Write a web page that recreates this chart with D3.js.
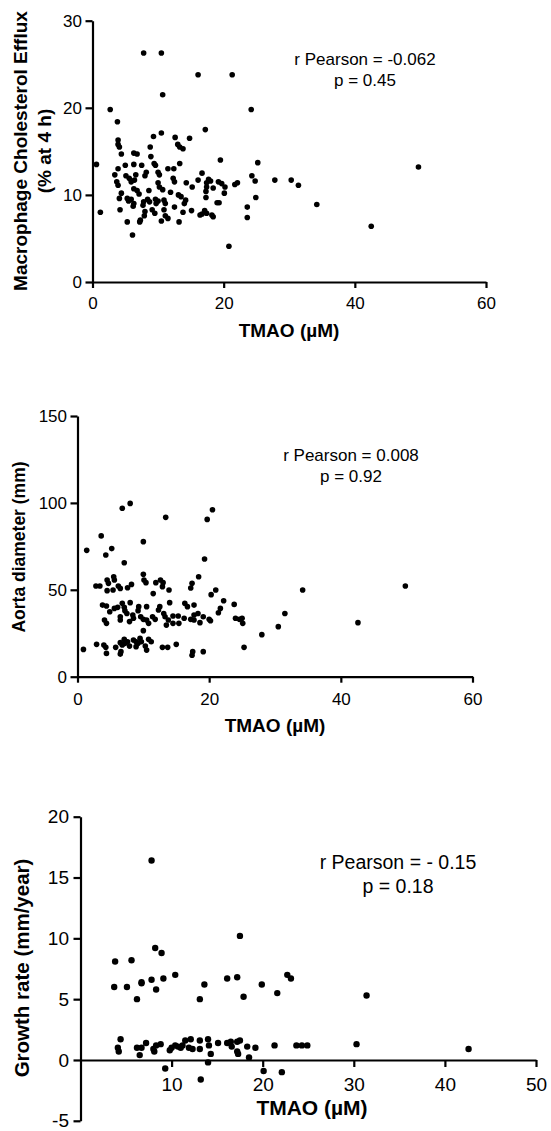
<!DOCTYPE html>
<html>
<head>
<meta charset="utf-8">
<script src="https://cdn.jsdelivr.net/npm/d3@7"></script>
<style>
  html, body { margin: 0; padding: 0; background: #fff; }
  svg { display: block; font-family: "Liberation Sans", Arial, sans-serif; }
</style>
</head>
<body>
<svg id="chart" width="551" height="1131"></svg>
<script>
// panel 1: macrophage cholesterol efflux vs TMAO
const tmaoEfflux = [7.8, 10.5, 16.1, 21.3, 10.7, 2.7, 24.2, 3.8, 17.2, 10.5, 9.3, 12.6, 14.8, 3.9, 3.9, 4.1, 8.8, 13.0, 13.3, 13.8,
  4.4, 6.3, 6.8, 8.9, 19.5, 0.6, 9.4, 9.6, 13.3, 6.3, 5.0, 7.5, 25.2, 49.7, 3.9, 11.5, 12.4, 10.0, 10.2, 8.2,
  8.0, 16.7, 3.4, 5.1, 6.6, 6.4, 24.3, 17.7, 17.4, 18.0, 12.3, 12.5, 5.6, 5.9, 19.2, 19.7, 24.8, 27.8, 30.3, 31.4,
  14.3, 3.7, 3.9, 10.0, 10.2, 16.1, 21.7, 22.1, 15.2, 20.2, 17.4, 17.3, 10.7, 6.3, 6.8, 7.1, 8.6, 4.4, 11.9, 18.4,
  20.1, 17.3, 13.1, 13.5, 24.9, 4.1, 5.3, 5.5, 5.9, 9.6, 10.0, 8.4, 8.7, 10.9, 11.1, 14.2, 14.0, 7.8, 7.7, 6.3,
  6.2, 9.7, 19.0, 19.3, 12.5, 23.6, 34.2, 1.2, 4.2, 9.1, 10.9, 13.8, 15.1, 17.1, 17.4, 8.0, 7.9, 9.5, 11.1, 11.5,
  16.4, 16.7, 18.4, 18.2, 23.6, 7.2, 7.3, 5.3, 10.5, 13.2, 42.5, 6.1, 20.8]
const efflux = [26.3, 26.3, 23.8, 23.8, 21.5, 19.8, 19.8, 18.4, 17.5, 17.1, 16.7, 16.6, 16.5, 16.3, 15.8, 15.5, 15.5, 15.8, 15.5, 15.3,
  14.7, 14.8, 14.7, 14.4, 14.0, 13.5, 13.6, 13.4, 13.6, 13.5, 13.4, 13.4, 13.7, 13.2, 13.0, 13.0, 13.0, 12.6, 12.3, 12.6,
  12.2, 12.5, 12.3, 12.2, 12.3, 11.7, 12.2, 11.8, 11.4, 11.6, 11.9, 11.5, 11.9, 11.5, 11.5, 11.3, 11.6, 11.7, 11.7, 11.1,
  11.4, 11.5, 11.1, 11.4, 10.9, 11.7, 11.2, 11.4, 10.9, 10.9, 10.9, 10.4, 10.6, 10.7, 10.5, 10.1, 10.5, 10.2, 10.3, 10.8,
  10.2, 9.7, 10.0, 9.8, 9.7, 9.6, 9.6, 9.3, 9.5, 9.5, 9.3, 9.5, 9.2, 9.4, 9.0, 9.4, 9.0, 9.2, 8.8, 9.0,
  8.7, 9.0, 9.1, 9.1, 8.6, 8.6, 8.9, 8.0, 8.3, 8.3, 8.3, 8.0, 8.2, 8.2, 7.9, 8.1, 7.6, 7.9, 7.6, 7.3,
  7.7, 7.8, 7.5, 7.7, 7.4, 6.9, 7.1, 6.9, 7.0, 6.9, 6.4, 5.4, 4.1]

// panel 2: aorta diameter vs TMAO
const tmaoAorta = [8.0, 6.8, 20.5, 19.7, 13.4, 3.6, 10.0, 1.4, 5.2, 4.3, 7.1, 19.3, 10.0, 10.1, 10.4, 18.4, 5.5, 5.6, 4.5, 4.7,
  12.6, 13.0, 11.9, 17.4, 17.2, 2.8, 3.4, 6.2, 6.5, 7.6, 8.2, 12.9, 4.5, 5.4, 13.9, 21.0, 20.3, 49.8, 34.2, 11.5,
  22.2, 23.8, 14.0, 16.3, 16.7, 17.7, 3.8, 4.4, 6.8, 7.1, 8.0, 9.3, 9.2, 10.5, 5.6, 6.1, 12.5, 12.3, 21.7, 21.4,
  4.9, 7.2, 7.5, 8.4, 8.5, 13.1, 13.3, 14.5, 11.4, 11.8, 9.6, 10.0, 15.3, 18.3, 17.7, 19.1, 31.5, 6.5, 6.5, 7.9,
  4.4, 4.1, 10.5, 10.8, 13.8, 13.5, 16.2, 17.2, 17.7, 20.0, 20.2, 14.5, 15.4, 18.6, 24.0, 24.6, 25.0, 25.1, 42.6, 30.5,
  28.0, 10.0, 8.5, 8.9, 9.5, 9.7, 10.8, 11.2, 7.1, 7.2, 7.6, 6.5, 6.8, 9.2, 8.9, 10.3, 2.9, 4.0, 4.3, 5.8,
  12.9, 13.7, 15.0, 25.3, 0.9, 7.9, 10.5, 4.4, 6.5, 6.6, 17.5, 17.4, 19.1]
const aorta = [99.7, 96.9, 96.1, 90.5, 91.7, 81.0, 77.7, 72.7, 73.7, 70.0, 65.6, 67.7, 58.9, 55.6, 54.1, 57.5, 57.5, 55.6, 55.6, 53.7,
  55.6, 54.1, 54.1, 53.7, 51.0, 52.2, 52.2, 52.2, 50.8, 51.2, 53.1, 51.8, 49.5, 49.9, 49.9, 49.9, 47.2, 52.2, 49.9, 47.8,
  43.7, 41.6, 42.6, 42.2, 40.3, 41.2, 41.2, 40.7, 42.2, 39.9, 42.6, 40.3, 38.0, 40.3, 39.3, 39.9, 40.3, 38.4, 39.3, 36.8,
  37.4, 38.0, 36.4, 35.5, 33.6, 36.4, 34.5, 34.9, 34.5, 33.0, 34.5, 33.0, 34.9, 36.4, 35.5, 34.5, 36.4, 34.5, 32.6, 31.7,
  30.7, 32.6, 32.6, 30.7, 32.6, 29.7, 33.6, 33.0, 32.6, 33.0, 32.2, 30.7, 30.7, 31.1, 33.6, 33.0, 33.6, 30.7, 31.1, 28.8,
  24.2, 26.5, 21.1, 20.1, 22.1, 20.1, 21.5, 20.1, 21.5, 19.2, 20.1, 19.6, 18.2, 19.2, 17.3, 17.6, 18.6, 18.2, 16.9, 16.9,
  16.9, 16.9, 18.6, 16.9, 15.7, 17.6, 15.3, 13.4, 13.0, 14.4, 14.4, 12.3, 14.4]

// panel 3: growth rate vs TMAO
const tmaoGrowth = [7.8, 17.5, 8.2, 8.9, 3.8, 5.6, 3.7, 5.1, 6.7, 6.7, 7.8, 9.1, 10.4, 8.3, 6.2, 13.6, 13.1, 16.1, 17.2, 17.9,
  19.9, 21.6, 22.7, 23.1, 31.4, 4.4, 4.1, 4.2, 6.2, 6.5, 6.7, 7.2, 8.0, 8.1, 8.3, 8.8, 9.8, 10.0, 10.4, 10.7,
  11.0, 11.2, 11.5, 12.1, 11.9, 12.3, 13.1, 13.1, 14.0, 14.1, 14.3, 15.1, 16.1, 16.5, 16.6, 17.2, 17.5, 17.2, 17.3, 18.3,
  18.5, 19.2, 21.3, 23.7, 24.3, 24.9, 30.3, 42.6, 9.3, 14.0, 20.1, 22.1, 13.2]
const growth = [16.4, 10.2, 9.2, 8.8, 8.1, 8.2, 6.0, 6.0, 6.4, 6.3, 6.6, 6.7, 7.0, 5.8, 5.0, 6.2, 5.0, 6.7, 6.8, 5.2,
  6.2, 5.5, 7.0, 6.7, 5.3, 1.7, 1.0, 0.7, 1.0, 0.4, 1.0, 1.4, 0.9, 0.7, 1.2, 1.3, 0.8, 1.0, 1.2, 1.1,
  1.0, 1.2, 1.6, 1.7, 1.0, 0.9, 1.6, 0.9, 1.7, 1.2, 0.5, 1.4, 1.4, 1.5, 1.1, 1.5, 1.6, 0.7, 0.5, 1.1,
  0.2, 1.0, 1.2, 1.2, 1.2, 1.2, 1.3, 0.9, -0.7, -0.2, -0.9, -1.0, -1.6]

const xTicks60 = [0, 20, 40, 60]
const xTicks50 = [10, 20, 30, 40, 50]
const yTicksEfflux = [0, 10, 20, 30]
const yTicksAorta = [0, 50, 100, 150]
const yTicksGrowth = [-5, 0, 5, 10, 15, 20]

const xTitle = 'TMAO (µM)'
const statsEfflux = ['r Pearson = -0.062', 'p = 0.45']
const statsAorta = ['r Pearson = 0.008', 'p = 0.92']
const statsGrowth = ['r Pearson = - 0.15', 'p = 0.18']

let svg = d3.select('#chart')
svg.append('rect').attr('width', 551).attr('height', 1131).attr('fill', '#fff')

function drawPanel(p) {
  let x = d3.scaleLinear().domain(p.xDomain).range(p.xRange)
  let y = d3.scaleLinear().domain(p.yDomain).range(p.yRange)
  let g = svg.append('g')

  let xAxis = d3.axisBottom(x)
    .tickValues(p.xTicks)
    .tickFormat(d3.format('d'))
    .tickSize(p.xTickSize)
    .tickSizeOuter(0)
    .tickPadding(p.xPad)
  let gx = g.append('g')
    .attr('transform', `translate(0,${y(p.xAxisAt)})`)
    .call(xAxis)

  let yAxis = d3.axisLeft(y)
    .tickValues(p.yTicks)
    .tickFormat(d => d < 0 ? '-' + Math.abs(d) : d)
    .tickSize(p.yTickSize)
    .tickSizeOuter(0)
    .tickPadding(p.yPad)
  let gy = g.append('g')
    .attr('transform', `translate(${x(p.xDomain[0])},0)`)
    .call(yAxis)

  for (let a of [gx, gy]) {
    a.select('.domain').attr('stroke', '#000').attr('stroke-width', 2.2)
    a.selectAll('.tick line').attr('stroke', '#000').attr('stroke-width', 2.2)
    a.selectAll('.tick text')
      .attr('fill', '#000')
      .style('font-size', p.tickFont + 'px')
      .style('font-family', '"Liberation Sans", Arial, sans-serif')
  }

  g.append('g')
    .selectAll('circle')
    .data(p.xs.map((v, i) => [v, p.ys[i]]))
    .join('circle')
    .attr('cx', d => x(d[0]))
    .attr('cy', d => y(d[1]))
    .attr('r', p.r)
    .attr('fill', '#000')

  g.append('text')
    .attr('x', p.xTitlePos[0])
    .attr('y', p.xTitlePos[1])
    .attr('text-anchor', 'middle')
    .style('font-size', p.xTitleFont + 'px')
    .style('font-weight', 'bold')
    .text(xTitle)

  p.yTitle.forEach((t, i) => {
    g.append('text')
      .attr('transform', `translate(${p.yTitlePos[i][0]},${p.yTitlePos[i][1]}) rotate(-90)`)
      .attr('text-anchor', 'middle')
      .style('font-size', p.yTitleFont + 'px')
      .style('font-weight', 'bold')
      .text(t)
  })

  p.stats.forEach((t, i) => {
    g.append('text')
      .attr('x', p.statsPos[0])
      .attr('y', p.statsPos[1] + i * p.statsGap)
      .attr('text-anchor', 'middle')
      .style('font-size', p.statsFont + 'px')
      .text(t)
  })
}

drawPanel({
  xs: tmaoEfflux, ys: efflux,
  xDomain: [0, 60], xRange: [92.5, 486],
  yDomain: [0, 30], yRange: [282, 20.7],
  xTicks: xTicks60, yTicks: yTicksEfflux, xAxisAt: 0,
  xTickSize: 6, xPad: 9, yTickSize: 7, yPad: 3.5, tickFont: 17,
  r: 2.8,
  xTitlePos: [289, 337], xTitleFont: 19,
  yTitle: ['Macrophage Cholesterol Efflux', '(% at 4 h)'],
  yTitlePos: [[26.5, 151], [50.5, 151]], yTitleFont: 19,
  stats: statsEfflux, statsPos: [365, 65], statsGap: 20.5, statsFont: 17,
})

drawPanel({
  xs: tmaoAorta, ys: aorta,
  xDomain: [0, 60], xRange: [77.5, 472.5],
  yDomain: [0, 150], yRange: [676.7, 416],
  xTicks: xTicks60, yTicks: yTicksAorta, xAxisAt: 0,
  xTickSize: 6, xPad: 10.5, yTickSize: 7, yPad: 3.5, tickFont: 17,
  r: 2.8,
  xTitlePos: [275, 732], xTitleFont: 19,
  yTitle: ['Aorta diameter (mm)'],
  yTitlePos: [[25, 547]], yTitleFont: 17.5,
  stats: statsAorta, statsPos: [351, 460.7], statsGap: 21, statsFont: 17,
})

drawPanel({
  xs: tmaoGrowth, ys: growth,
  xDomain: [0, 50], xRange: [80.5, 536],
  yDomain: [-5, 20], yRange: [1120.8, 816.7],
  xTicks: xTicks50, yTicks: yTicksGrowth, xAxisAt: 0,
  xTickSize: 7, xPad: 10.5, yTickSize: 7, yPad: 4.5, tickFont: 19,
  r: 3.2,
  xTitlePos: [312, 1115], xTitleFont: 21,
  yTitle: ['Growth rate (mm/year)'],
  yTitlePos: [[28.5, 968]], yTitleFont: 20.5,
  stats: statsGrowth, statsPos: [398, 869.3], statsGap: 24, statsFont: 19.5,
})
</script>
</body>
</html>
